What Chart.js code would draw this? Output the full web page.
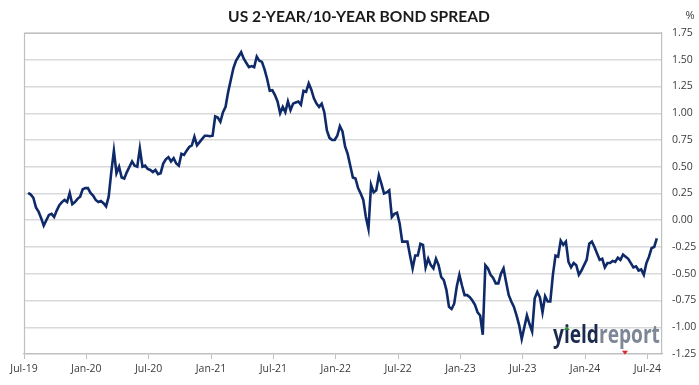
<!DOCTYPE html>
<html>
<head>
<meta charset="utf-8">
<script src="https://cdn.jsdelivr.net/npm/chart.js@4.4.1/dist/chart.umd.min.js"></script>
<style>
  html, body { margin: 0; padding: 0; background: #fff; }
</style>
</head>
<body>
<canvas id="spreadChart" width="699" height="385"></canvas>
<script>
const chartTitle = "US 2-YEAR/10-YEAR BOND SPREAD";
const unitLabel = "%";
const xTickLabels = ["Jul-19", "Jan-20", "Jul-20", "Jan-21", "Jul-21", "Jan-22", "Jul-22", "Jan-23", "Jul-23", "Jan-24", "Jul-24"];
const yMin = -1.25;
const yMax = 1.75;
const yStep = 0.25;

// months since Jul-19, one reading roughly every week
const startMonth = 0.4;
const monthStep = 0.25;
const spread = [
  // Jul-19 .. Jul-20
  0.255, 0.24, 0.21, 0.12, 0.08, 0.02, -0.05, 0.0, 0.05, 0.06,
  0.03, 0.09, 0.14, 0.17, 0.19, 0.17, 0.255, 0.15, 0.17, 0.2,
  0.22, 0.29, 0.30, 0.30, 0.255, 0.23, 0.19, 0.17, 0.18, 0.16,
  0.13, 0.22, 0.45, 0.65, 0.44, 0.5, 0.40, 0.39, 0.45, 0.50,
  0.55, 0.51, 0.50, 0.67, 0.50, 0.51, 0.48, 0.47, 0.45,
  // Jul-20 .. Jun-21
  0.47, 0.43, 0.44, 0.53, 0.57, 0.59, 0.55, 0.58, 0.53, 0.51,
  0.62, 0.61, 0.65, 0.685, 0.70, 0.78, 0.70, 0.73, 0.76, 0.79,
  0.79, 0.785, 0.79, 0.97, 0.96, 0.92, 1.01, 1.06, 1.20, 1.31,
  1.42, 1.49, 1.53, 1.57, 1.51, 1.47, 1.43, 1.44, 1.43, 1.53,
  1.49, 1.48, 1.41, 1.32, 1.21,
  // Jun-21 .. Jul-22
  1.215, 1.17, 1.11, 1.00, 1.06, 1.01, 1.11, 1.03, 1.09, 1.10,
  1.11, 1.08, 1.21, 1.20, 1.28, 1.22, 1.14, 1.09, 1.06, 1.09,
  1.01, 0.84, 0.77, 0.75, 0.75, 0.79, 0.88, 0.83, 0.69, 0.62,
  0.51, 0.40, 0.39, 0.30, 0.25, 0.19, 0.03, -0.08, 0.33, 0.26,
  0.28, 0.42, 0.34, 0.25, 0.26, 0.28, 0.03, 0.06, 0.07, -0.03,
  -0.20,
  // Jul-22 .. Jul-23
  -0.20, -0.20, -0.33, -0.45, -0.33, -0.33, -0.22, -0.23, -0.44, -0.36,
  -0.42, -0.45, -0.36, -0.42, -0.53, -0.56, -0.65, -0.81, -0.83, -0.78,
  -0.62, -0.51, -0.61, -0.70, -0.70, -0.72, -0.75, -0.79, -0.86, -0.89,
  -1.07, -0.42, -0.45, -0.51, -0.54, -0.59, -0.59, -0.50, -0.45, -0.58,
  -0.70, -0.76, -0.81, -0.89, -0.98, -1.11, -1.00,
  // Jul-23 .. Jul-24
  -0.89, -0.97, -1.04, -0.73, -0.67, -0.72, -0.86, -0.71, -0.76, -0.76,
  -0.51, -0.33, -0.34, -0.19, -0.23, -0.20, -0.39, -0.44, -0.40, -0.42,
  -0.51, -0.47, -0.42, -0.37, -0.22, -0.20, -0.25, -0.31, -0.37, -0.36,
  -0.44, -0.40, -0.40, -0.38, -0.39, -0.35, -0.37, -0.32, -0.34, -0.36,
  -0.40, -0.44, -0.43, -0.47, -0.46, -0.51, -0.40, -0.34, -0.26, -0.25,
  -0.17
];

const textColor = "#3a3a3a";
const gridColor = "#d9d9d9";
const frameColor = "#bfbfbf";
const lineColor = "#0f2a69";

Chart.defaults.font.family = "'Open Sans', 'Liberation Sans', sans-serif";

function fitFont(ctx, text, weight, family, targetWidth) {
  ctx.font = `${weight} 20px ${family}`;
  const w = ctx.measureText(text).width;
  return 20 * targetWidth / w;
}

const decorPlugin = {
  id: "decor",
  afterDraw(chart) {
    const { ctx, chartArea } = chart;
    ctx.save();
    // frame on left and top
    ctx.strokeStyle = frameColor;
    ctx.lineWidth = 1.2;
    ctx.beginPath();
    ctx.moveTo(chartArea.left + 0.5, chartArea.bottom);
    ctx.lineTo(chartArea.left + 0.5, chartArea.top + 0.5);
    ctx.lineTo(chartArea.right, chartArea.top + 0.5);
    ctx.stroke();

    // title
    const tSize = fitFont(ctx, chartTitle, "bold", "Lato", 262);
    ctx.font = `bold ${tSize}px Lato`;
    ctx.fillStyle = "#1a1a1a";
    ctx.textAlign = "center";
    ctx.textBaseline = "middle";
    ctx.fillText(chartTitle, 359, 17);

    // unit
    ctx.font = "11px 'Open Sans'";
    ctx.fillStyle = textColor;
    ctx.fillText(unitLabel, 690, 16);

    // logo, a little taller than the font
    const logoA = "yield", logoB = "report";
    const lSize = fitFont(ctx, logoA + logoB, "bold", "'Open Sans'", 107);
    const lx = 553, ly = 343;
    ctx.translate(lx, ly);
    ctx.scale(1, 1.3);
    ctx.font = `bold ${lSize}px 'Open Sans'`;
    ctx.textAlign = "left";
    ctx.textBaseline = "alphabetic";
    const wA = ctx.measureText(logoA).width;
    ctx.fillStyle = "#1d2a4f";
    ctx.fillText(logoA, 0, 0);
    ctx.fillStyle = "#7d8796";
    ctx.fillText(logoB, wA, 0);
    // small arrows of the logo
    const wI = ctx.measureText("y").width + ctx.measureText("i").width / 2;
    ctx.fillStyle = "#2e8b3a";
    ctx.beginPath();
    ctx.moveTo(wI - 3, -10);
    ctx.lineTo(wI + 3, -10);
    ctx.lineTo(wI, -13);
    ctx.fill();
    const wP = wA + ctx.measureText("re").width + ctx.measureText("p").width / 2;
    ctx.fillStyle = "#e0262b";
    ctx.beginPath();
    ctx.moveTo(wP - 3, 6);
    ctx.lineTo(wP + 3, 6);
    ctx.lineTo(wP, 9);
    ctx.fill();
    ctx.restore();
  }
};

new Chart(document.getElementById("spreadChart").getContext("2d"), {
  type: "line",
  data: {
    datasets: [{
      label: "2s10s",
      data: spread.map((v, i) => ({ x: startMonth + i * monthStep, y: v })),
      borderColor: lineColor,
      borderWidth: 2.6,
      pointRadius: 0,
      tension: 0,
      fill: false
    }]
  },
  options: {
    responsive: false,
    animation: false,
    devicePixelRatio: 1,
    layout: { padding: { left: 24, top: 33, right: 0, bottom: 0 } },
    plugins: {
      legend: { display: false },
      tooltip: { enabled: false },
      title: { display: false }
    },
    scales: {
      x: {
        type: "linear",
        min: 0,
        max: 61.4,
        afterBuildTicks: axis => { axis.ticks = xTickLabels.map((_, i) => ({ value: i * 6 })); },
        ticks: {
          autoSkip: false,
          maxRotation: 0,
          padding: 4,
          color: textColor,
          font: { size: 10.5 },
          callback: v => xTickLabels[Math.round(v / 6)]
        },
        grid: { drawOnChartArea: false, drawTicks: true, tickLength: 5, color: frameColor },
        border: { color: frameColor, width: 1.2 },
        afterFit: s => { s.height = 31; }
      },
      y: {
        position: "right",
        min: yMin,
        max: yMax,
        ticks: {
          stepSize: yStep,
          padding: 10,
          color: textColor,
          font: { size: 10.5 },
          callback: v => (Math.abs(v) < 1e-9 ? 0 : v).toFixed(2)
        },
        grid: { color: gridColor, lineWidth: 1.5, drawTicks: false },
        border: { color: frameColor, width: 1.2 },
        afterFit: s => { s.width = 37; }
      }
    }
  },
  plugins: [decorPlugin]
});
</script>
</body>
</html>
